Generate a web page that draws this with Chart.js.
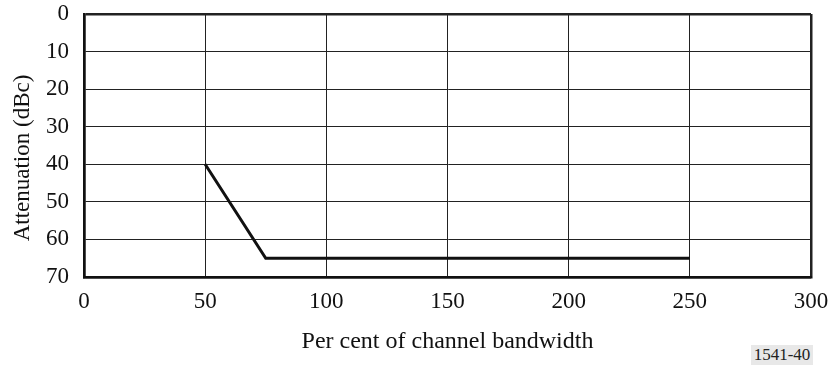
<!DOCTYPE html>
<html>
<head>
<meta charset="utf-8">
<script src="https://cdn.jsdelivr.net/npm/chart.js@4/dist/chart.umd.min.js"></script>
<style>
  html, body { margin: 0; padding: 0; background: #fff; }
  #wrap { position: relative; width: 832px; height: 365px; overflow: hidden; }
  #ref { position: absolute; left: 751px; top: 345px; width: 62px; height: 20px; background: #e8e8e8;
         font-family: "Liberation Serif", serif; font-size: 17px; color: #222; line-height: 20px; text-align: center; }
</style>
</head>
<body>
<div id="wrap">
  <canvas id="c" width="832" height="365"></canvas>
  <div id="ref">1541-40</div>
</div>
<script>
const bandwidthPct = [50, 75, 250];
const attenuationDbc = [40, 65, 65];
const xTitle = 'Per cent of channel bandwidth';
const yTitle = 'Attenuation (dBc)';

const FONT = '"Liberation Serif", "Times New Roman", serif';
const points = bandwidthPct.map((x, i) => ({ x: x, y: attenuationDbc[i] }));

const yTitlePlugin = {
  id: 'yTitle',
  afterDraw(chart) {
    const ctx = chart.ctx;
    ctx.save();
    ctx.translate(29, 158);
    ctx.rotate(-Math.PI / 2);
    ctx.font = '23px ' + FONT;
    ctx.fillStyle = '#111';
    ctx.textAlign = 'center';
    ctx.textBaseline = 'alphabetic';
    ctx.fillText(yTitle, 0, 0);
    ctx.restore();
  }
};

new Chart(document.getElementById('c'), {
  type: 'line',
  data: {
    datasets: [{
      data: points,
      borderColor: '#111',
      borderWidth: 3,
      pointRadius: 0,
      fill: false,
      tension: 0
    }]
  },
  options: {
    responsive: false,
    animation: false,
    layout: { padding: { left: 0, right: 21, top: 14, bottom: 0 } },
    plugins: { legend: { display: false }, tooltip: { enabled: false } },
    scales: {
      x: {
        type: 'linear',
        min: 0, max: 300,
        ticks: { stepSize: 50, color: '#111', font: { family: FONT, size: 23 }, padding: 11, maxRotation: 0 },
        grid: {
          color: '#222',
          lineWidth: ctx => (ctx.tick && (ctx.tick.value === 0 || ctx.tick.value === 300)) ? 2.5 : 1,
          drawTicks: false
        },
        border: { display: true, color: '#111', width: 2.5 },
        title: { display: true, text: xTitle, color: '#111', font: { family: FONT, size: 24 }, padding: { top: 0, bottom: 9 } },
        afterFit: s => { s.height = 88; s.paddingLeft = 0; s.paddingRight = 0; }
      },
      y: {
        type: 'linear',
        reverse: true,
        min: 0, max: 70,
        ticks: { stepSize: 10, color: '#111', font: { family: FONT, size: 23 }, padding: 15 },
        grid: {
          color: '#222',
          lineWidth: ctx => (ctx.tick && (ctx.tick.value === 0 || ctx.tick.value === 70)) ? 2.5 : 1,
          drawTicks: false
        },
        border: { display: true, color: '#111', width: 2.5 },
        title: { display: false },
        afterFit: s => { s.width = 84; s.paddingTop = 0; s.paddingBottom = 0; }
      }
    }
  },
  plugins: [yTitlePlugin]
});
</script>
</body>
</html>
